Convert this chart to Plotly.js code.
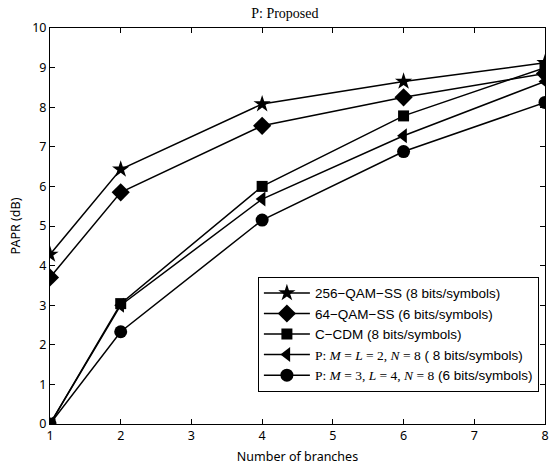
<!DOCTYPE html>
<html>
<head>
<meta charset="utf-8">
<script src="https://cdn.plot.ly/plotly-3.0.1.min.js"></script>
<style>html,body{margin:0;padding:0;background:#fff;}#chart{width:550px;height:468px;}</style>
</head>
<body>
<div id="chart"></div>
<script>
var branches = [1, 2, 4, 6, 8];
var qam256 = [4.28, 6.43, 8.08, 8.65, 9.12];
var qam64 = [3.7, 5.85, 7.53, 8.25, 8.85];
var ccdm = [0, 3.04, 6.0, 7.78, 9.0];
var propA = [0, 3.0, 5.68, 7.28, 8.65];
var propB = [0, 2.33, 5.15, 6.88, 8.12];

var names = [
  "256\u2212QAM\u2212SS (8 bits/symbols)",
  "64\u2212QAM\u2212SS (6 bits/symbols)",
  "C\u2212CDM (8 bits/symbols)",
  "<span style='font-family:Liberation Serif'>P: <i>M</i> = <i>L</i> = 2, <i>N</i> = 8</span> ( 8 bits/symbols)",
  "<span style='font-family:Liberation Serif'>P: <i>M</i> = 3, <i>L</i> = 4, <i>N</i> = 8</span> (6 bits/symbols)"
];
var series = [qam256, qam64, ccdm, propA, propB];
var symbols = ['star', 'diamond', 'square', 'triangle-left', 'circle'];
var sizes = [13, 14, 11, 13, 13];

var traces = series.map(function (s, i) {
  return {
    x: branches, y: s, name: names[i], type: 'scatter', mode: 'lines+markers',
    line: {color: '#000', width: 1.5},
    marker: {symbol: symbols[i], size: sizes[i], color: '#000'}
  };
});

var axisFont = {family: 'Noto Sans, sans-serif', size: 12.5, color: '#000'};
var layout = {
  width: 550, height: 468,
  margin: {l: 50, r: 5, t: 28, b: 44},
  paper_bgcolor: '#fff', plot_bgcolor: '#fff',
  title: {text: 'P: Proposed', font: {family: 'Liberation Serif, serif', size: 14, color: '#000'}, x: 0.518, xanchor: 'center', y: 0.972, yanchor: 'middle'},
  xaxis: {
    range: [1, 8], dtick: 1, tick0: 1, showgrid: false, zeroline: false,
    showline: true, linecolor: '#000', linewidth: 1, mirror: 'ticks',
    ticks: 'inside', ticklen: 5, tickcolor: '#000',
    tickfont: axisFont,
    title: {text: 'Number of branches', font: axisFont, standoff: 9}
  },
  yaxis: {
    range: [0, 10], dtick: 1, tick0: 0, showgrid: false, zeroline: false,
    showline: true, linecolor: '#000', linewidth: 1, mirror: 'ticks',
    ticks: 'inside', ticklen: 5, tickcolor: '#000',
    tickfont: axisFont,
    title: {text: 'PAPR (dB)', font: axisFont, standoff: 8}
  },
  legend: {
    x: 0.42, y: 0.372, xanchor: 'left', yanchor: 'top',
    bgcolor: '#fff', bordercolor: '#000', borderwidth: 1,
    font: {family: 'Liberation Sans, sans-serif', size: 13.5, color: '#000'},
    tracegroupgap: 0, itemwidth: 46
  },
  showlegend: true
};

Plotly.newPlot('chart', traces, layout, {displayModeBar: false, staticPlot: true});
</script>
</body>
</html>
